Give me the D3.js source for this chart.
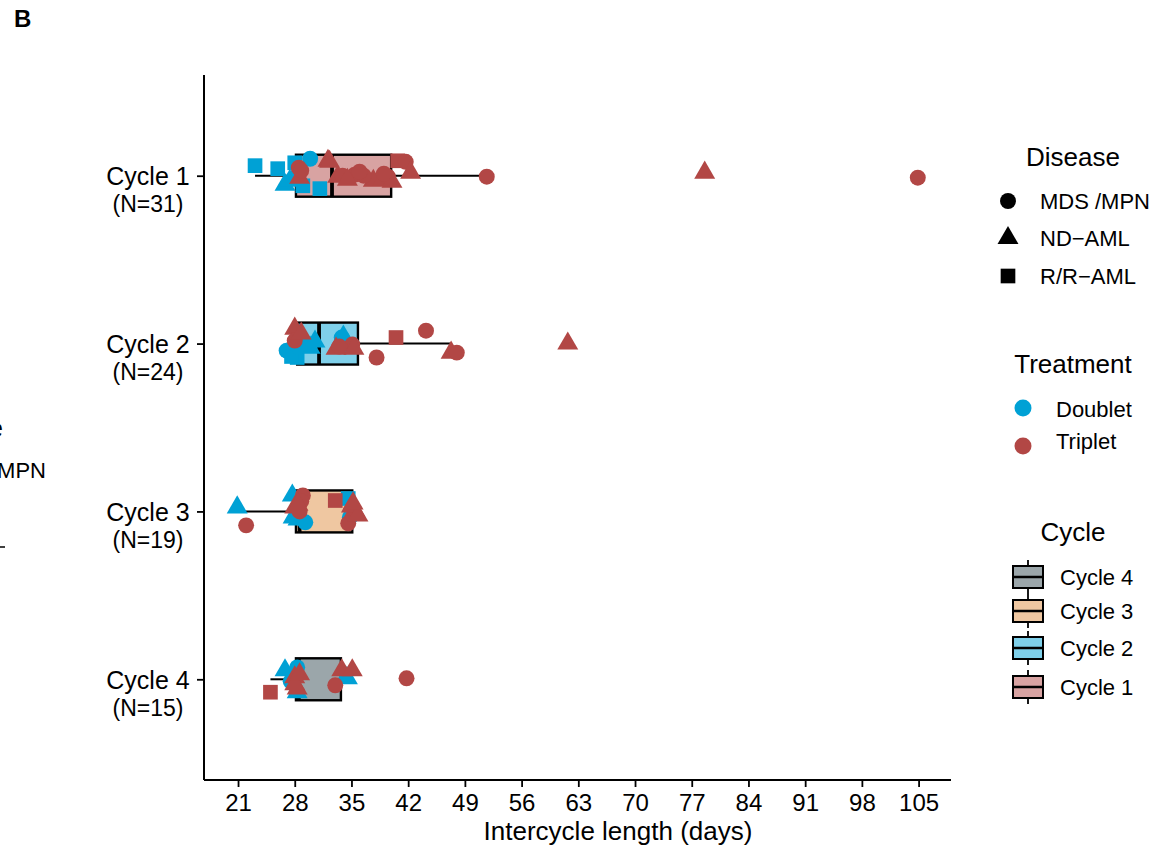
<!DOCTYPE html>
<html>
<head>
<meta charset="utf-8">
<script src="https://cdn.jsdelivr.net/npm/d3@7"></script>
<style>
  body { margin: 0; background: #fff; }
  svg text { font-family: "Liberation Sans", Arial, Helvetica, sans-serif; fill: #000; }
</style>
</head>
<body>
<svg id="chart" width="1167" height="851"></svg>
<script>
// ---- data -------------------------------------------------------------
const cycles = ["Cycle 1", "Cycle 2", "Cycle 3", "Cycle 4"];
const cycleCounts = ["(N=31)", "(N=24)", "(N=19)", "(N=15)"];
const xTicks = [21, 28, 35, 42, 49, 56, 63, 70, 77, 84, 91, 98, 105];
const diseases = ["MDS /MPN", "ND\u2212AML", "R/R\u2212AML"];
const treatments = ["Doublet", "Triplet"];

// box summaries per cycle (days)
const boxQ1 = [28.15, 28.3, 28.15, 28.15];
const boxMedian = [32.6, 31.0, 28.6, 28.5];
const boxQ3 = [39.9, 35.8, 35.1, 33.7];
const whiskerLow = [23.1, 27.0, 20.9, 25.0];
const whiskerHigh = [51.7, 47.3, 35.8, 35.1];

// patients: [days, vertical jitter (share of row step), disease index, treatment index]
const cycle1Points = [
  [23.1, -0.060, 2, 0], [25.9, -0.042, 2, 0], [28.0, -0.077, 2, 0], [26.8, 0.054, 1, 0],
  [27.4, 0.030, 1, 0], [29.9, -0.101, 0, 0], [31.1, 0.077, 2, 0], [29.0, 0.060, 2, 0],
  [28.2, -0.012, 1, 0],
  [28.5, -0.048, 0, 1], [28.6, 0.012, 1, 1], [32.1, -0.089, 1, 1], [33.3, 0.006, 1, 1],
  [33.9, 0.000, 0, 1], [35.4, -0.006, 0, 1], [37.7, 0.030, 1, 1], [38.9, 0.024, 1, 1],
  [39.5, 0.006, 0, 1], [40.0, 0.036, 1, 1], [40.7, -0.089, 2, 1], [41.7, -0.083, 0, 1],
  [42.3, -0.018, 1, 1], [51.7, 0.006, 0, 1], [78.6, -0.018, 1, 1], [104.9, 0.012, 0, 1],
  [28.8, -0.030, 0, 1], [32.3, -0.083, 1, 1], [36.5, 0.000, 0, 1], [34.5, 0.024, 1, 1],
  [39.0, -0.012, 0, 1], [36.0, -0.024, 0, 1]
];
const cycle2Points = [
  [29.0, 0.000, 1, 0], [27.0, 0.042, 0, 0], [28.3, 0.083, 2, 0], [27.6, 0.077, 2, 0],
  [29.9, 0.024, 1, 0], [28.6, -0.048, 1, 0], [33.8, -0.036, 0, 0], [28.4, 0.018, 0, 0],
  [30.5, -0.012, 1, 0], [34.0, -0.042, 1, 0], [34.5, 0.012, 0, 0],
  [28.0, -0.089, 1, 1], [28.0, -0.018, 0, 1], [33.1, 0.030, 1, 1], [35.1, 0.006, 0, 1],
  [35.3, 0.030, 1, 1], [40.5, -0.036, 2, 1], [44.2, -0.077, 0, 1], [38.1, 0.083, 0, 1],
  [47.3, 0.054, 1, 1], [48.0, 0.054, 0, 1], [61.7, 0.000, 1, 1], [33.5, 0.018, 0, 1],
  [28.8, -0.060, 1, 1]
];
const cycle3Points = [
  [20.9, -0.024, 1, 0], [27.7, -0.095, 1, 0], [27.8, 0.036, 1, 0], [29.3, 0.065, 0, 0],
  [34.6, -0.077, 2, 0], [28.4, 0.048, 1, 0], [34.8, 0.036, 0, 0],
  [22.0, 0.083, 0, 1], [29.0, -0.095, 0, 1], [28.0, -0.024, 1, 1], [33.0, -0.065, 2, 1],
  [35.4, -0.006, 1, 1], [35.0, -0.030, 1, 1], [34.6, 0.071, 0, 1], [35.8, 0.024, 1, 1],
  [28.6, 0.000, 0, 1], [28.8, -0.060, 0, 1], [35.2, -0.048, 1, 1], [28.4, -0.040, 1, 1]
];
const cycle4Points = [
  [26.8, -0.054, 1, 0], [28.3, -0.071, 0, 0], [28.3, 0.077, 1, 0], [34.5, -0.006, 1, 0],
  [27.5, 0.012, 0, 0], [34.3, -0.012, 1, 0],
  [28.0, -0.012, 1, 1], [28.3, 0.054, 1, 1], [25.0, 0.077, 2, 1], [33.0, 0.036, 0, 1],
  [33.8, -0.054, 1, 1], [35.1, -0.054, 1, 1], [41.8, -0.006, 0, 1], [28.0, 0.030, 1, 1],
  [28.6, -0.030, 1, 1]
];
const cyclePoints = [cycle1Points, cycle2Points, cycle3Points, cycle4Points];

// ---- styling ----------------------------------------------------------
const treatmentColors = ["#00A1D5", "#B24745"];
const cycleFill = ["#B24745", "#00A1D5", "#DF8F44", "#374E55"];
const symbolTypes = [d3.symbolCircle, d3.symbolTriangle, d3.symbolSquare];
const symbolSizes = [200, 190, 215];

const svg = d3.select("#chart");

// panel letter
svg.append("text").attr("x", 14).attr("y", 27)
  .style("font-size", "24px").style("font-weight", "bold").text("B");

// neighbouring panel legend, cut by the page edge
svg.append("text").attr("x", 3).attr("y", 437).attr("text-anchor", "end")
  .style("font-size", "26px").text("Disease");
svg.append("text").attr("x", 46).attr("y", 478).attr("text-anchor", "end")
  .style("font-size", "22px").text("MDS /MPN");
svg.append("line").attr("x1", -10).attr("x2", 5).attr("y1", 547).attr("y2", 547)
  .attr("stroke", "#000").attr("stroke-width", 1.5);

// ---- scales -----------------------------------------------------------
const plotLeft = 204, plotRight = 951, plotTop = 75, plotBottom = 780;
const x = d3.scaleLinear().domain([16.8, 109]).range([plotLeft, plotRight]);
const y = d3.scalePoint().domain(cycles).range([plotTop, plotBottom]).padding(0.6);
const step = y.step();
const boxHalf = step * 0.125;

// ---- boxplots ---------------------------------------------------------
const boxes = svg.append("g");
cycles.forEach((c, i) => {
  const cy = y(c);
  boxes.append("line")
    .attr("x1", x(whiskerLow[i])).attr("x2", x(boxQ1[i]))
    .attr("y1", cy).attr("y2", cy).attr("stroke", "#000").attr("stroke-width", 2);
  boxes.append("line")
    .attr("x1", x(boxQ3[i])).attr("x2", x(whiskerHigh[i]))
    .attr("y1", cy).attr("y2", cy).attr("stroke", "#000").attr("stroke-width", 2);
  boxes.append("rect")
    .attr("x", x(boxQ1[i])).attr("y", cy - boxHalf)
    .attr("width", x(boxQ3[i]) - x(boxQ1[i])).attr("height", 2 * boxHalf)
    .attr("fill", cycleFill[i]).attr("fill-opacity", 0.5)
    .attr("stroke", "#000").attr("stroke-width", 2.4);
  boxes.append("line")
    .attr("x1", x(boxMedian[i])).attr("x2", x(boxMedian[i]))
    .attr("y1", cy - boxHalf).attr("y2", cy + boxHalf)
    .attr("stroke", "#000").attr("stroke-width", 3.8);
});

// ---- jittered points --------------------------------------------------
const pts = [];
cyclePoints.forEach((arr, i) => arr.forEach(p => pts.push({
  cycle: cycles[i], days: p[0], jit: p[1], disease: p[2], treatment: p[3]
})));
pts.sort((a, b) => a.treatment - b.treatment);
svg.append("g").selectAll("path").data(pts).join("path")
  .attr("transform", d => `translate(${x(d.days)},${y(d.cycle) + d.jit * step})`)
  .attr("d", d => d3.symbol(symbolTypes[d.disease], symbolSizes[d.disease])())
  .attr("fill", d => treatmentColors[d.treatment]);

// ---- axes -------------------------------------------------------------
const xAxis = svg.append("g").attr("transform", `translate(0,${plotBottom})`)
  .call(d3.axisBottom(x).tickValues(xTicks).tickSize(7).tickPadding(7).tickSizeOuter(0));
xAxis.select(".domain").attr("stroke", "#000").attr("stroke-width", 2)
  .attr("d", `M${plotLeft},0H${plotRight}`);
xAxis.selectAll(".tick line").attr("stroke", "#000").attr("stroke-width", 1.8);
xAxis.selectAll(".tick text").style("font-size", "24px").attr("fill", "#000")
  .style("font-family", "'Liberation Sans', Arial, sans-serif");

const yAxis = svg.append("g").attr("transform", `translate(${plotLeft},0)`)
  .call(d3.axisLeft(y).tickSize(7).tickSizeOuter(0).tickFormat(""));
yAxis.select(".domain").attr("stroke", "#000").attr("stroke-width", 2)
  .attr("d", `M0,${plotTop}V${plotBottom}`);
yAxis.selectAll(".tick line").attr("stroke", "#000").attr("stroke-width", 1.8);
yAxis.selectAll(".tick").each(function (c, i) {
  const t = d3.select(this).append("text")
    .attr("text-anchor", "middle").attr("fill", "#000");
  t.append("tspan").attr("x", -56).attr("y", 9).style("font-size", "25px").text(c);
  t.append("tspan").attr("x", -56).attr("y", 36).style("font-size", "23px").text(cycleCounts[i]);
});

svg.append("text").attr("x", 618).attr("y", 840)
  .attr("text-anchor", "middle").style("font-size", "26px")
  .text("Intercycle length (days)");

// ---- legends ----------------------------------------------------------
const lg = svg.append("g");
const legendCenter = 1073;

lg.append("text").attr("x", legendCenter).attr("y", 166).attr("text-anchor", "middle")
  .style("font-size", "26px").text("Disease");
const diseaseY = [201, 238, 276];
diseases.forEach((d, i) => {
  lg.append("path").attr("transform", `translate(1008,${diseaseY[i]})`)
    .attr("d", d3.symbol(symbolTypes[i], symbolSizes[i])()).attr("fill", "#000");
  lg.append("text").attr("x", 1040).attr("y", diseaseY[i] + 8)
    .style("font-size", "22px").text(d);
});

lg.append("text").attr("x", legendCenter).attr("y", 373).attr("text-anchor", "middle")
  .style("font-size", "26px").text("Treatment");
const treatY = [408, 446];
const treatLabelY = [417, 449];
treatments.forEach((t, i) => {
  lg.append("circle").attr("cx", 1023).attr("cy", treatY[i]).attr("r", 8.5)
    .attr("fill", treatmentColors[i]);
  lg.append("text").attr("x", 1056).attr("y", treatLabelY[i])
    .style("font-size", "22px").text(t);
});

lg.append("text").attr("x", legendCenter).attr("y", 541).attr("text-anchor", "middle")
  .style("font-size", "26px").text("Cycle");
const cycleKeyY = [687, 648, 611, 577];
cycles.forEach((c, i) => {
  const cy = cycleKeyY[i];
  const kx = 1028;
  lg.append("line").attr("x1", kx).attr("x2", kx).attr("y1", cy - 17).attr("y2", cy + 17)
    .attr("stroke", "#000").attr("stroke-width", 1.8);
  lg.append("rect").attr("x", kx - 15).attr("y", cy - 11).attr("width", 30).attr("height", 22)
    .attr("fill", "#fff");
  lg.append("rect").attr("x", kx - 15).attr("y", cy - 11).attr("width", 30).attr("height", 22)
    .attr("fill", cycleFill[i]).attr("fill-opacity", 0.5)
    .attr("stroke", "#000").attr("stroke-width", 2);
  lg.append("line").attr("x1", kx - 15).attr("x2", kx + 15).attr("y1", cy).attr("y2", cy)
    .attr("stroke", "#000").attr("stroke-width", 2.5);
  lg.append("text").attr("x", 1060).attr("y", cy + 8)
    .style("font-size", "22px").text(c);
});
</script>
</body>
</html>
